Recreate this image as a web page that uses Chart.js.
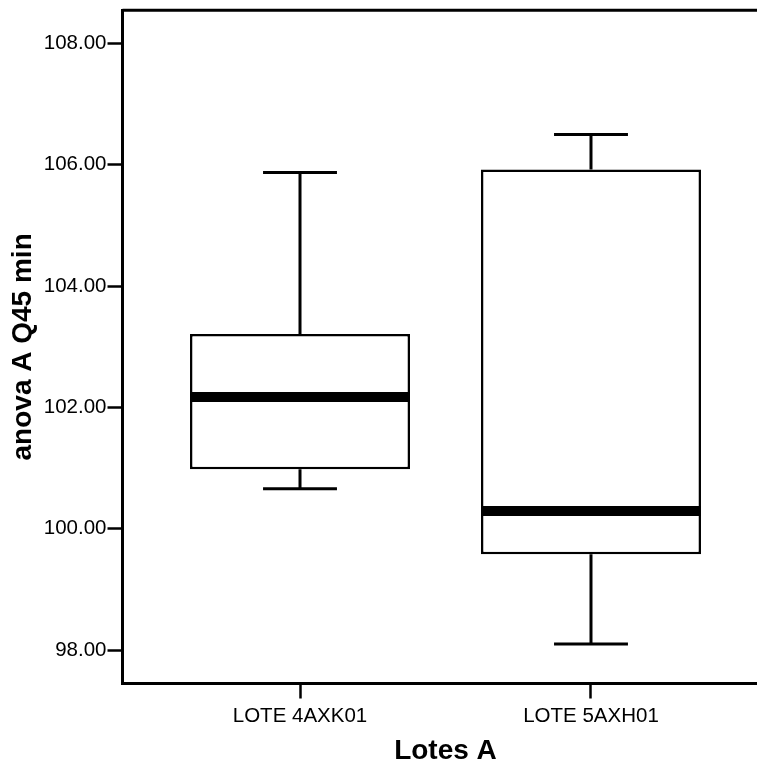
<!DOCTYPE html>
<html>
<head>
<meta charset="utf-8">
<script src="https://cdn.jsdelivr.net/npm/chart.js@4"></script>
<style>
  html, body { margin: 0; padding: 0; background: #fff; overflow: hidden; }
  #wrap { width: 757px; height: 765px; overflow: hidden; position: relative; }
  canvas { display: block; }
</style>
</head>
<body>
<div id="wrap"><canvas id="c" width="775" height="765"></canvas></div>
<script>
// ---- data ----
const categories = ["LOTE 4AXK01", "LOTE 5AXH01"];
const whiskerLow  = [100.66, 98.10];
const quartile1   = [100.98, 99.58];
const medians     = [102.17, 100.29];
const quartile3   = [103.21, 105.92];
const whiskerHigh = [105.87, 106.50];
const yTicks = [98, 100, 102, 104, 106, 108];
const yTitle = "anova A Q45 min";
const xTitle = "Lotes A";

// ---- styling constants (not data) ----
const FONT = "Arial, 'Liberation Sans', sans-serif";
const BOX_W = 0.756;   // in category units
const CAP_W = 0.254;

const boxPlugin = {
  id: 'boxExtras',
  afterDatasetsDraw(chart) {
    const ctx = chart.ctx;
    const x = chart.scales.x, y = chart.scales.y;
    ctx.save();
    ctx.strokeStyle = '#000';
    ctx.lineCap = 'butt';
    categories.forEach((c, i) => {
      const xc = x.getPixelForValue(i);
      // whiskers
      ctx.lineWidth = 3;
      ctx.beginPath();
      ctx.moveTo(xc, y.getPixelForValue(quartile3[i]));
      ctx.lineTo(xc, y.getPixelForValue(whiskerHigh[i]));
      ctx.moveTo(xc, y.getPixelForValue(quartile1[i]));
      ctx.lineTo(xc, y.getPixelForValue(whiskerLow[i]));
      ctx.stroke();
      // caps
      ctx.beginPath();
      ctx.moveTo(x.getPixelForValue(i - CAP_W / 2), y.getPixelForValue(whiskerHigh[i]));
      ctx.lineTo(x.getPixelForValue(i + CAP_W / 2), y.getPixelForValue(whiskerHigh[i]));
      ctx.moveTo(x.getPixelForValue(i - CAP_W / 2), y.getPixelForValue(whiskerLow[i]));
      ctx.lineTo(x.getPixelForValue(i + CAP_W / 2), y.getPixelForValue(whiskerLow[i]));
      ctx.stroke();
      // median
      ctx.lineWidth = 10;
      ctx.beginPath();
      ctx.moveTo(x.getPixelForValue(i - BOX_W / 2), y.getPixelForValue(medians[i]));
      ctx.lineTo(x.getPixelForValue(i + BOX_W / 2), y.getPixelForValue(medians[i]));
      ctx.stroke();
    });
    // frame top & right
    const a = chart.chartArea;
    ctx.lineWidth = 3;
    ctx.beginPath();
    ctx.moveTo(a.left, a.top);
    ctx.lineTo(a.right, a.top);
    ctx.lineTo(a.right, a.bottom);
    ctx.stroke();
    ctx.restore();
  }
};

new Chart(document.getElementById('c'), {
  type: 'bar',
  data: {
    datasets: [{
      data: categories.map((c, i) => ({ x: i, y: [quartile1[i], quartile3[i]] })),
      backgroundColor: '#ffffff',
      borderColor: '#000000',
      borderWidth: 2.5,
      borderSkipped: false,
      categoryPercentage: 1,
      barPercentage: BOX_W
    }]
  },
  options: {
    responsive: false,
    animation: false,
    events: [],
    layout: { padding: { top: 9.5, right: 6.5, left: 0, bottom: 0 } },
    plugins: { legend: { display: false }, tooltip: { enabled: false } },
    scales: {
      x: {
        type: 'linear',
        min: -0.61,
        max: 1.61,
        offset: false,
        afterBuildTicks: (s) => { s.ticks = categories.map((c, i) => ({ value: i })); },
        afterFit: (s) => { s.height = 81.5; },
        ticks: {
          callback: (v) => categories[v],
          color: '#000',
          font: { family: FONT, size: 20.5 },
          padding: 6,
          maxRotation: 0,
          autoSkip: false
        },
        grid: { offset: false, drawOnChartArea: false, drawTicks: true, tickLength: 15, tickWidth: 2.5, color: '#000' },
        border: { display: true, color: '#000', width: 3 },
        title: {
          display: true, text: xTitle, color: '#000',
          font: { family: FONT, size: 28, weight: 'bold', lineHeight: 1 },
          padding: { top: 0, bottom: 0 }
        }
      },
      y: {
        type: 'linear',
        min: 97.448,
        max: 108.547,
        afterBuildTicks: (s) => { s.ticks = yTicks.map(v => ({ value: v })); },
        afterFit: (s) => { s.width = 122.5; },
        ticks: {
          callback: (v) => Number(v).toFixed(2),
          color: '#000',
          font: { family: FONT, size: 20.5, lineHeight: 0.9 },
          padding: 1
        },
        grid: { drawOnChartArea: false, drawTicks: true, tickLength: 15, tickWidth: 2.5, color: '#000' },
        border: { display: true, color: '#000', width: 3 },
        title: {
          display: true, text: yTitle, color: '#000',
          font: { family: FONT, size: 28, weight: 'bold', lineHeight: 1 },
          padding: { top: 9.5, bottom: 0 }
        }
      }
    }
  },
  plugins: [boxPlugin]
});
</script>
</body>
</html>
